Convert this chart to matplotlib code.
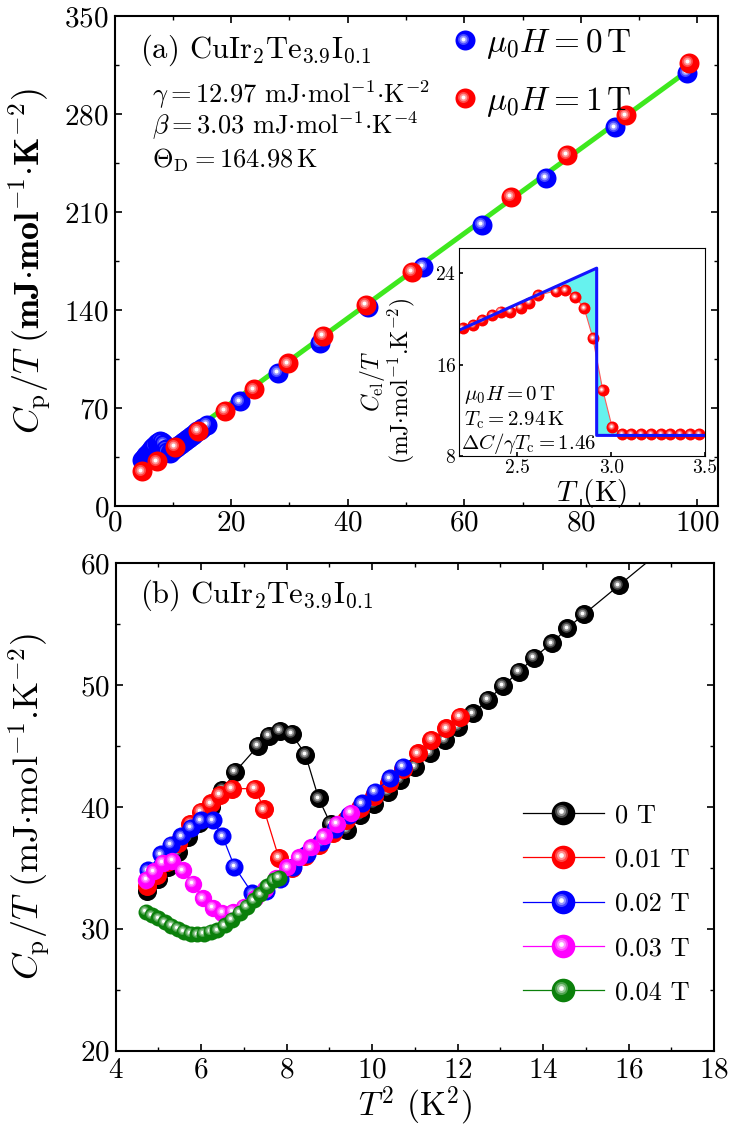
import numpy as np
import matplotlib
matplotlib.use("Agg")
import matplotlib.pyplot as plt
import matplotlib.colors as mcolors
import matplotlib.transforms as mtransforms
from matplotlib.lines import Line2D
from matplotlib.legend_handler import HandlerLine2D, HandlerTuple
from matplotlib.ticker import MultipleLocator, FormatStrFormatter

plt.rcParams.update({
    "font.family": "serif",
    "font.serif": ["cmr10"],
    "mathtext.fontset": "cm",
    "axes.formatter.use_mathtext": True,
    "axes.linewidth": 1.5,
    "xtick.direction": "in",
    "ytick.direction": "in",
    "xtick.top": True,
    "ytick.right": True,
    "xtick.major.size": 5,
    "ytick.major.size": 5,
    "xtick.minor.size": 3,
    "ytick.minor.size": 3,
    "xtick.major.width": 1.2,
    "ytick.major.width": 1.2,
    "xtick.minor.width": 1.0,
    "ytick.minor.width": 1.0,
})

# ---- data: zero field (panel a blue, panel b black), x = T^2 (K^2)
t2_h0 = [4.74, 4.98, 5.22, 5.45, 5.70, 5.95, 6.22, 6.50, 6.80, 7.33, 7.59, 7.85,
         8.12, 8.44, 8.75, 9.03, 9.42, 9.72, 10.05, 10.38, 10.65, 11.00, 11.35,
         11.70, 12.01, 12.36, 12.71, 13.06, 13.44, 13.79, 14.20, 14.57, 14.95,
         15.78, 21.5, 28.0, 35.3, 43.5, 53.0, 63.1, 74.1, 85.9, 98.2]
cp_h0 = [33.1, 34.1, 35.1, 36.3, 37.5, 38.7, 40.0, 41.4, 42.9, 45.0, 45.85, 46.25,
         46.0, 44.3, 40.7, 38.6, 38.1, 39.3, 40.25, 41.26, 42.2, 43.3, 44.46,
         45.5, 46.6, 47.69, 48.78, 49.93, 51.1, 52.26, 53.44, 54.67, 55.8,
         58.2, 74.7, 95.0, 116.7, 142.5, 170.7, 200.8, 234.7, 270.6, 309.7]

# 1 T
t2_h1 = [4.7, 7.2, 10.4, 14.3, 18.9, 23.9, 29.8, 35.7, 43.2, 51.0, 68.1, 77.7, 87.8, 98.6]
cp_h1 = [24.7, 31.9, 42.5, 53.7, 67.8, 83.4, 101.9, 121.7, 143.5, 167.4, 221.1, 250.8, 279.2, 316.4]

# Debye fit line (gamma + beta T^2), end points
fit_t2 = [4.7, 99.0]
fit_cp = [27.2, 313.0]

# low fields, panel b
t2_h001 = [4.74, 4.97, 5.20, 5.47, 5.75, 5.99, 6.22, 6.45, 6.72, 7.27, 7.47, 7.82, 8.13,
           8.44, 8.76, 9.08, 9.40, 9.72, 10.05, 10.40, 10.73, 11.08, 11.39, 11.74, 12.05]
cp_h001 = [33.5, 34.4, 35.5, 37.0, 38.6, 39.6, 40.3, 41.0, 41.5, 41.5, 39.8, 35.8, 35.0,
           36.0, 36.9, 37.9, 38.9, 39.9, 40.9, 42.0, 43.1, 44.4, 45.5, 46.46, 47.41]

t2_h002 = [4.76, 5.05, 5.30, 5.54, 5.77, 6.00, 6.27, 6.50, 6.78, 7.20, 7.52, 7.85, 8.15,
           8.47, 8.80, 9.13, 9.45, 9.76, 10.07, 10.42, 10.73]
cp_h002 = [34.8, 36.1, 36.9, 37.6, 38.3, 38.9, 38.9, 37.6, 35.1, 32.9, 33.1, 34.1, 35.1,
           36.1, 37.1, 38.2, 39.3, 40.3, 41.26, 42.36, 43.3]

t2_h003 = [4.72, 4.90, 5.10, 5.33, 5.57, 5.80, 6.04, 6.27, 6.50, 6.75, 7.00, 7.25, 7.50,
           7.75, 8.02, 8.29, 8.56, 8.87, 9.18, 9.50]
cp_h003 = [34.0, 34.7, 35.4, 35.6, 34.8, 33.7, 32.5, 31.7, 31.3, 31.4, 31.8, 32.5, 33.3,
           34.2, 35.05, 35.85, 36.7, 37.6, 38.6, 39.5]

t2_h004 = [4.70, 4.85, 5.00, 5.15, 5.30, 5.45, 5.60, 5.76, 5.91, 6.06, 6.22, 6.38, 6.55,
           6.72, 6.90, 7.07, 7.23, 7.38, 7.55, 7.70, 7.82]
cp_h004 = [31.4, 31.1, 30.85, 30.55, 30.25, 30.0, 29.75, 29.6, 29.55, 29.6, 29.75, 29.9, 30.3,
           30.75, 31.3, 31.8, 32.35, 32.85, 33.5, 34.0, 34.2]

field_labels = ["0 T", "0.01 T", "0.02 T", "0.03 T", "0.04 T"]

# inset: C_el/T vs T at 0 T
t_in = [2.209, 2.264, 2.312, 2.366, 2.411, 2.464, 2.518, 2.562, 2.611, 2.705, 2.755, 2.809,
        2.857, 2.902, 2.955, 3.005, 3.059, 3.107, 3.161, 3.211, 3.264, 3.313, 3.366, 3.420, 3.470]
cel_in = [19.18, 19.47, 19.91, 20.35, 20.64, 20.64, 20.99, 21.43, 22.07, 22.45, 22.51, 21.93,
          20.91, 18.36, 13.81, 10.54, 9.90, 9.90, 9.90, 9.90, 9.90, 9.90, 9.90, 9.90, 9.90]
# entropy-conserving construction
tc_t = [2.19, 2.923, 2.923, 3.5]
tc_c = [19.0, 24.44, 9.8, 9.8]

# ---- ball markers
SHINE = [(0.55, 0.28), (0.38, 0.58), (0.20, 1.0)]
SHIFT = (-0.10, 0.09)


def tint(color, f):
    c = np.array(mcolors.to_rgb(color))
    return tuple(c + (1 - c) * f)


def balls(ax, x, y, color, ms):
    tr = mtransforms.offset_copy(ax.transData, fig=ax.figure,
                                 x=SHIFT[0] * ms, y=SHIFT[1] * ms, units="points")
    for xi, yi in zip(x, y):
        ax.plot([xi], [yi], "o", ms=ms, color=color, mew=0)
        for frac, white in SHINE:
            ax.plot([xi], [yi], "o", ms=ms * frac, color=tint(color, white), mew=0, transform=tr)


class ShiftedMarker(HandlerLine2D):
    def __init__(self, dx, dy):
        super().__init__()
        self.dx, self.dy = dx, dy

    def create_artists(self, legend, orig_handle, xdescent, ydescent, width, height, fontsize, trans):
        arts = super().create_artists(legend, orig_handle, xdescent, ydescent, width, height, fontsize, trans)
        off = mtransforms.ScaledTranslation(self.dx / 72, self.dy / 72, legend.figure.dpi_scale_trans)
        for a in arts:
            a.set_transform(a.get_transform() + off)
        return arts


def ball_handle(color, ms, hmap, line=False):
    parts = [Line2D([], [], color=color, marker="o", ms=ms, mew=0,
                    ls="-" if line else "none", lw=0.9)]
    for frac, white in SHINE:
        h = Line2D([], [], color=tint(color, white), marker="o", ms=ms * frac, mew=0, ls="none")
        hmap[h] = ShiftedMarker(SHIFT[0] * ms, SHIFT[1] * ms)
        parts.append(h)
    return tuple(parts)


fig = plt.figure(figsize=(7.3, 11.3), dpi=100)

# ---- panel (a)
ax1 = fig.add_axes([0.157, 0.5522, 0.827, 0.4334])
ax1.plot(fit_t2, fit_cp, color="#3ee81e", lw=3.6, solid_capstyle="butt")
balls(ax1, t2_h0, cp_h0, "#0000ff", 14.4)
balls(ax1, t2_h1, cp_h1, "#ff0000", 14.4)
ax1.set_xlim(0, 103.6)
ax1.set_ylim(0, 350)
ax1.xaxis.set_major_locator(MultipleLocator(20))
ax1.xaxis.set_minor_locator(MultipleLocator(10))
ax1.yaxis.set_major_locator(MultipleLocator(70))
ax1.yaxis.set_minor_locator(MultipleLocator(35))
ax1.tick_params(labelsize=21, pad=4)
ax1.tick_params(axis="x", pad=3)
ax1.set_ylabel(r"$C_{\rm p}/T\ \mathbf{(mJ{\cdot}mol^{-1}{\cdot}K^{-2})}$", fontsize=26)
ax1.yaxis.set_label_coords(-0.102, 0.5)

ax1.text(0.042, 0.931, r"(a) CuIr$_2$Te$_{3.9}$I$_{0.1}$", transform=ax1.transAxes,
         fontsize=22, va="center", ha="left")
ax1.text(0.062, 0.839, r"$\gamma = 12.97$ mJ$\cdot$mol$^{-1}{\cdot}$K$^{-2}$", transform=ax1.transAxes,
         fontsize=19, va="center", ha="left")
ax1.text(0.062, 0.776, r"$\beta = 3.03$ mJ$\cdot$mol$^{-1}{\cdot}$K$^{-4}$", transform=ax1.transAxes,
         fontsize=19, va="center", ha="left")
ax1.text(0.062, 0.707, r"$\Theta_{\rm D} = 164.98\,$K", transform=ax1.transAxes,
         fontsize=19, va="center", ha="left")

hmap1 = {}
h_a = [ball_handle("#0000ff", 14.4, hmap1), ball_handle("#ff0000", 14.4, hmap1)]
hmap1[tuple] = HandlerTuple(ndivide=1, pad=0)
ax1.legend(h_a, [r"$\mu_0H = 0\,$T", r"$\mu_0H = 1\,$T"], handler_map=hmap1,
           loc="upper left", bbox_to_anchor=(0.561, 0.978), frameon=False, fontsize=24,
           handlelength=0.72, handletextpad=0.25, borderpad=0, borderaxespad=0,
           labelspacing=0.72, numpoints=1)

# ---- inset
ax_in = fig.add_axes([0.6288, 0.5965, 0.337, 0.184])
fill_t = [t_in[8], tc_t[1], tc_t[2], t_in[16]] + t_in[16:7:-1]
fill_c = [np.interp(t_in[8], tc_t[:2], tc_c[:2]), tc_c[1], tc_c[2], tc_c[3]] + cel_in[16:7:-1]
ax_in.fill(fill_t, fill_c, color="#66f2ee", lw=0)
ax_in.plot(t_in, cel_in, color="#ff5a5a", lw=0.8)
balls(ax_in, t_in, cel_in, "#ff0000", 8.6)
ax_in.plot(tc_t, tc_c, color="#1414ff", lw=2.2)
ax_in.set_xlim(2.19, 3.5)
ax_in.set_ylim(8, 26.2)
ax_in.set_xticks([2.5, 3.0, 3.5])
ax_in.set_yticks([8, 16, 24])
ax_in.xaxis.set_major_formatter(FormatStrFormatter("%.1f"))
ax_in.tick_params(labelsize=14, pad=2, length=3, top=False, right=False)
ax_in.set_xlabel(r"$T$ (K)", fontsize=21)
ax_in.xaxis.set_label_coords(0.54, -0.10)
ax_in.set_ylabel("$C_{\\rm el}/T$\n(mJ$\\cdot$mol$^{-1}$.K$^{-2}$)", fontsize=17, linespacing=0.95)
ax_in.yaxis.set_label_coords(-0.17, 0.36)
for s in ax_in.spines.values():
    s.set_linewidth(0.8)
ax_in.text(0.02, 0.293, r"$\mu_0H = 0\,$T", transform=ax_in.transAxes, fontsize=15, va="center")
ax_in.text(0.02, 0.173, r"$T_{\rm c} = 2.94\,$K", transform=ax_in.transAxes, fontsize=15, va="center")
ax_in.text(0.01, 0.061, r"$\Delta C/\gamma T_{\rm c} = 1.46$", transform=ax_in.transAxes, fontsize=15, va="center")

# ---- panel (b)
ax2 = fig.add_axes([0.1584, 0.0703, 0.8197, 0.4312])
series = [(t2_h0, cp_h0, "k", 13.7), (t2_h001, cp_h001, "#ff0000", 13.7),
          (t2_h002, cp_h002, "#0000ff", 13.0), (t2_h003, cp_h003, "#ff00ff", 12.5),
          (t2_h004, cp_h004, "#0b800b", 11.5)]
hmap2 = {}
h_b = []
for x, y, c, ms in series:
    ax2.plot(x, y, color=c, lw=0.9)
    balls(ax2, x, y, c, ms)
    h_b.append(ball_handle(c, 17, hmap2, line=True))
hmap2[tuple] = HandlerTuple(ndivide=1, pad=0)
ax2.legend(h_b, field_labels, handler_map=hmap2, loc="upper left", bbox_to_anchor=(0.68, 0.507),
           frameon=False, fontsize=19, handlelength=3.07, handletextpad=0.42, borderpad=0,
           borderaxespad=0, labelspacing=0.78, numpoints=1)
ax2.set_xlim(4, 18)
ax2.set_ylim(20, 60)
ax2.xaxis.set_major_locator(MultipleLocator(2))
ax2.xaxis.set_minor_locator(MultipleLocator(1))
ax2.yaxis.set_major_locator(MultipleLocator(10))
ax2.yaxis.set_minor_locator(MultipleLocator(5))
ax2.tick_params(labelsize=21, pad=4)
ax2.tick_params(axis="x", pad=5)
ax2.set_xlabel(r"$T^2$ (K$^2$)", fontsize=24, labelpad=1)
ax2.set_ylabel(r"$C_{\rm p}/T$ (mJ$\cdot$mol$^{-1}$.K$^{-2}$)", fontsize=26)
ax2.yaxis.set_label_coords(-0.104, 0.5)
ax2.text(0.041, 0.935, r"(b) CuIr$_2$Te$_{3.9}$I$_{0.1}$", transform=ax2.transAxes,
         fontsize=22, va="center", ha="left")

fig.savefig("out.png", dpi=100)
